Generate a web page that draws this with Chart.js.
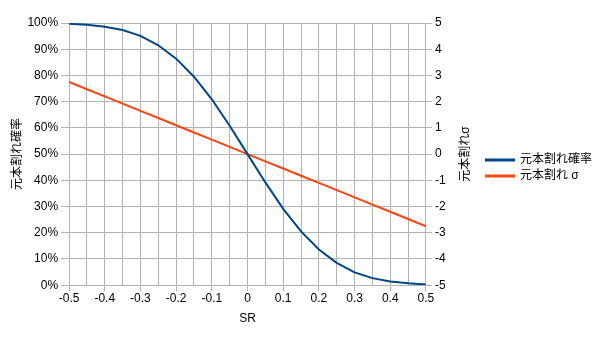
<!DOCTYPE html>
<html><head><meta charset="utf-8">
<script src="https://cdn.jsdelivr.net/npm/chart.js@4"></script>
<style>html,body{margin:0;padding:0;background:#fff}#wrap{width:600px;height:337px}</style>
</head><body><div id="wrap"><canvas id="c" width="600" height="337"></canvas></div>
<script>
const srValues = [-0.5,-0.45,-0.4,-0.35,-0.3,-0.25,-0.2,-0.15,-0.1,-0.05,0,0.05,0.1,0.15,0.2,0.25,0.3,0.35,0.4,0.45,0.5];
const lossProb = [99.7,99.3,98.6,97.3,95.1,91.5,86.4,79.5,70.9,60.8,50,39.2,29.1,20.5,13.6,8.5,4.9,2.7,1.4,0.7,0.3];
const lossSigma = [2.75,2.475,2.2,1.925,1.65,1.375,1.1,0.825,0.55,0.275,0,-0.275,-0.55,-0.825,-1.1,-1.375,-1.65,-1.925,-2.2,-2.475,-2.75];
const seriesNames = ['元本割れ確率','元本割れ σ'];
const leftTitle = '元本割れ確率';
const rightTitle = '元本割れσ';
const xTitle = 'SR';

const FONT = "'Liberation Sans', Arial, 'Noto Sans CJK JP', sans-serif";
const GRID = '#b3b3b3';

const extrasPlugin = {
  id: 'extras',
  afterDraw(chart) {
    const s = chart.scales.y2;
    const ctx = chart.ctx;
    ctx.save();
    ctx.font = "12px " + FONT;
    ctx.fillStyle = '#000';
    ctx.textAlign = 'center';
    ctx.textBaseline = 'middle';
    ctx.translate(s.right - 9, (s.top + s.bottom) / 2);
    ctx.rotate(-Math.PI / 2);
    ctx.fillText(rightTitle, 0, 0);
    ctx.restore();
    // legend
    ctx.save();
    ctx.font = "12px " + FONT;
    ctx.textAlign = 'left';
    ctx.textBaseline = 'middle';
    const lx = s.right + 10, ly0 = 160, step = 16;
    chart.data.datasets.forEach((ds, i) => {
      const y = ly0 + i * step;
      ctx.strokeStyle = ds.borderColor;
      ctx.lineWidth = 3;
      ctx.beginPath(); ctx.moveTo(lx, y); ctx.lineTo(lx + 30, y); ctx.stroke();
      ctx.fillStyle = '#000';
      ctx.fillText(ds.label, lx + 35, y);
    });
    ctx.restore();
  }
};

new Chart(document.getElementById('c'), {
  type: 'line',
  data: {
    datasets: [
      { label: seriesNames[0], data: srValues.map((x,i)=>({x, y: lossProb[i]})), yAxisID: 'y',
        borderColor: '#004586', backgroundColor: '#004586', borderWidth: 2, pointRadius: 0, tension: 0 },
      { label: seriesNames[1], data: srValues.map((x,i)=>({x, y: lossSigma[i]})), yAxisID: 'y2',
        borderColor: '#ff420e', backgroundColor: '#ff420e', borderWidth: 2, pointRadius: 0, tension: 0 }
    ]
  },
  options: {
    responsive: false, animation: false,
    layout: { padding: { top: 23, right: 125, bottom: 11, left: 10 } },
    plugins: {
      tooltip: { enabled: false },
      legend: { display: false }
    },
    scales: {
      x: {
        type: 'linear', min: -0.5, max: 0.5,
        ticks: { stepSize: 0.05, padding: 0, color: '#000', font: { family: FONT, size: 12 }, maxRotation: 0, autoSkip: false,
          callback: (v) => { const r = Math.round(v * 100); return (r % 10 === 0) ? String(r / 100) : ''; } },
        grid: { color: GRID, lineWidth: 1, tickLength: 6,
          tickColor: (c) => { const r = Math.round(c.tick.value * 100); return (r % 10 === 0) ? GRID : 'rgba(0,0,0,0)'; } },
        border: { color: GRID },
        title: { display: true, text: xTitle, color: '#000', font: { family: FONT, size: 12 }, padding: { top: 6, bottom: 0 } }
      },
      y: {
        position: 'left', min: 0, max: 100,
        ticks: { stepSize: 10, color: '#000', font: { family: FONT, size: 12 }, callback: (v) => v + '%' },
        grid: { color: GRID, tickLength: 8 },
        border: { color: GRID },
        title: { display: true, text: leftTitle, color: '#000', font: { family: FONT, size: 12 }, padding: { top: 0, bottom: 0 } }
      },
      y2: {
        position: 'right', min: -5, max: 5,
        ticks: { stepSize: 1, color: '#000', font: { family: FONT, size: 12 } },
        grid: { drawOnChartArea: false, color: GRID, tickLength: 6 },
        border: { color: GRID },
        title: { display: true, text: rightTitle, color: 'rgba(0,0,0,0)', font: { family: FONT, size: 12 }, padding: { top: 4, bottom: 8 } }
      }
    }
  },
  plugins: [extrasPlugin]
});
</script></body></html>
